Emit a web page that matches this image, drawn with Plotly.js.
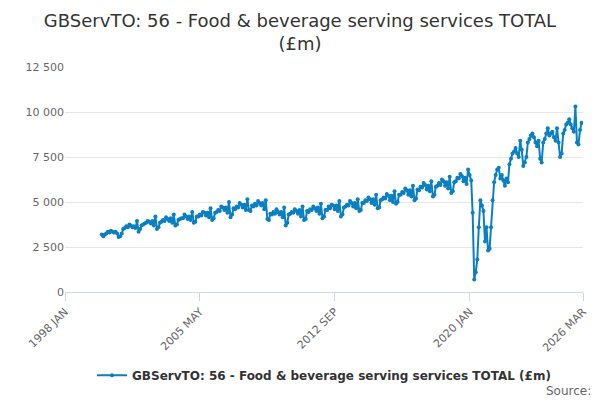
<!DOCTYPE html>
<html><head><meta charset="utf-8">
<script src="https://cdn.plot.ly/plotly-3.0.1.min.js"></script>
<style>body{margin:0}#chart{width:600px;height:400px}</style>
</head><body><div id="chart"></div>
<script>
// monthly values, one row per year, starting 2000 JAN
var startYear = 2000;
var values = [
  3200,3100,3200,3250,3350,3300,3400,3350,3300,3350,3250,3050,
  3100,3250,3500,3550,3650,3600,3750,3700,3600,3650,3550,3950,
  3350,3500,3700,3750,3800,3850,3950,3900,3800,3950,3700,4200,
  3500,3600,3850,3900,4000,3950,4150,4050,3950,4100,3850,4300,
  3700,3750,4000,4050,4100,4100,4300,4200,4050,4200,4000,4450,
  3850,3900,4200,4200,4300,4250,4450,4400,4250,4400,4150,4650,
  4000,4100,4400,4450,4550,4500,4750,4700,4550,4700,4400,5000,
  4150,4300,4650,4600,4750,4700,4950,4850,4700,4850,4550,5150,
  4550,4500,4800,4750,4900,4800,5050,4950,4800,4950,4600,5100,
  4050,4000,4350,4300,4450,4350,4600,4450,4300,4450,4150,4700,
  3700,3850,4300,4350,4450,4400,4600,4500,4350,4550,4200,4750,
  4000,4050,4500,4450,4600,4550,4750,4650,4500,4700,4350,4900,
  4100,4200,4550,4550,4750,4650,4850,4800,4600,4800,4500,5050,
  4200,4300,4700,4750,4850,4800,5050,4950,4750,4950,4650,5150,
  4500,4550,4950,4950,5100,5050,5250,5150,4950,5150,4850,5400,
  4650,4700,5100,5150,5250,5200,5450,5350,5100,5350,5000,5600,
  4900,5000,5400,5400,5550,5500,5750,5650,5400,5650,5300,5900,
  5100,5200,5700,5650,5850,5800,6050,5950,5700,5900,5600,6150,
  5300,5400,5850,5900,6050,5950,6250,6150,5900,6100,5750,6400,
  5500,5600,6100,6150,6350,6300,6550,6450,6150,6350,6000,6800,
  6500,6200,4400,700,1100,1800,3600,5100,4800,4500,2800,3600,
  2300,2400,3600,5100,6100,6500,6800,6900,6300,6500,6200,5900,
  6300,6100,7100,7400,7700,7800,8000,7700,7500,8400,7900,7000,
  7200,7500,8300,8500,8700,8800,8600,8300,8100,8400,7400,7200,
  8300,8500,8800,9100,8700,8800,8900,8600,8400,9100,8300,7500,
  7700,8800,9000,9300,9400,9600,9300,9100,8900,10300,8300,8200,
  9000,9400
];
var dates = values.map(function (v, i) {
  var y = startYear + Math.floor(i / 12), m = i % 12 + 1;
  return y + '-' + (m < 10 ? '0' + m : m) + '-01';
});
var tickVals = ['1998-01-01', '2005-05-01', '2012-09-01', '2020-01-01', '2026-03-01'];
var tickText = ['1998 JAN', '2005 MAY', '2012 SEP', '2020 JAN', '2026 MAR'];
var seriesName = 'GBServTO: 56 - Food &amp; beverage serving services TOTAL (£m)';

var trace = {
  x: dates, y: values, type: 'scatter', mode: 'lines+markers',
  name: '<b>' + seriesName + '</b>',
  line: {color: '#0a7fc1', width: 2},
  marker: {color: '#0a7fc1', size: 4}
};

var layout = {
  width: 600, height: 400,
  font: {family: 'DejaVu Sans', color: '#333'},
  title: {text: 'GBServTO: 56 - Food &amp; beverage serving services TOTAL<br>(£m)', font: {size: 18, color: '#333'},
    x: 0.5, xref: 'container', xanchor: 'center', y: 1, yref: 'paper', yanchor: 'bottom', pad: {b: 40}},
  margin: {l: 65, r: 17, t: 67, b: 107},
  paper_bgcolor: '#fff', plot_bgcolor: '#fff',
  xaxis: {
    type: 'date', range: ['1998-01-01', '2026-03-01'],
    tickvals: tickVals, ticktext: tickText, tickangle: -45,
    showgrid: false, showline: true, linecolor: '#ccd6eb',
    ticks: 'outside', tickcolor: '#ccd6eb', ticklen: 8,
    tickfont: {size: 11, color: '#666'}
  },
  yaxis: {
    range: [0, 12500], tick0: 0, dtick: 2500, tickformat: ',d',
    gridcolor: '#e6e6e6', zeroline: false, showline: false,
    tickfont: {size: 11, color: '#666'}
  },
  separators: '. ',
  showlegend: true,
  legend: {orientation: 'h', x: 0.5, xanchor: 'center', y: -0.3, yanchor: 'top', font: {size: 12, color: '#333'}},
  annotations: [{text: 'Source:', xref: 'paper', yref: 'paper', x: 1.02, y: -0.4, xanchor: 'right', yanchor: 'top', showarrow: false, font: {size: 12, color: '#666'}}]
};

Plotly.newPlot('chart', [trace], layout, {displayModeBar: false});
</script></body></html>
